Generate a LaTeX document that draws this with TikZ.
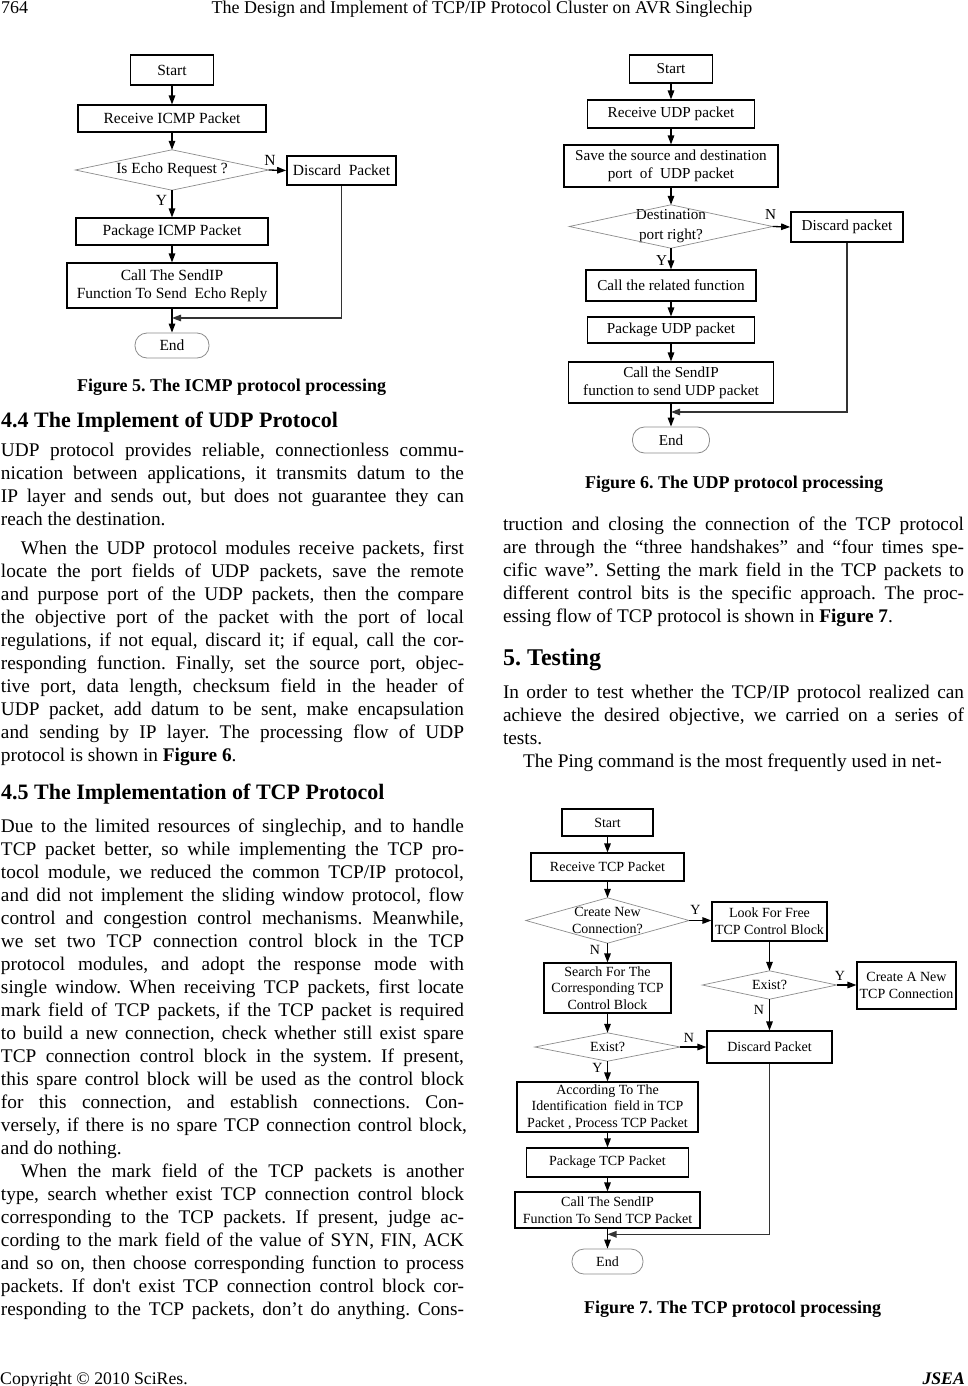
\documentclass[tikz,border=0pt]{standalone}
\usepackage{fontspec}
\setmainfont{Liberation Serif}
\usetikzlibrary{arrows.meta}
\frenchspacing
\newcommand\jl[2][463pt]{\hbox to #1{#2}}
\newcommand\nl[1]{\hbox{#1}}
\newcommand\sq{{\addfontfeatures{Ligatures=TeXOff}'}}
\newcommand\bodyf{\fontsize{19.3}{23}\selectfont}
\newcommand\headf{\fontsize{22}{26}\selectfont\bfseries}
\newcommand\headg{\fontsize{24}{26}\selectfont\bfseries}
\newcommand\capf{\fontsize{18}{21}\selectfont\bfseries}
\begin{document}
\begin{tikzpicture}[x=1pt,y=-1pt,
  txt/.style={inner sep=0pt, outer sep=0pt, font=\bodyf},
  fbox/.style={draw=black, line width=1.1pt, inner sep=0pt, align=center},
  fdia/.style={inner sep=0pt, align=center},
  diaedge/.style={draw=black!45, line width=0.7pt},
  fend/.style={draw=black!45, line width=0.8pt, rounded corners=12pt, inner sep=0pt},
  arr/.style={-{Triangle[length=9pt,width=6.5pt]}, line width=1.3pt, draw=black},
  retl/.style={-{Triangle[length=9pt,width=6.5pt]}, line width=1.3pt, draw=black!80},
  lab/.style={inner sep=0pt}
]
\useasboundingbox[fill=white] (0,0) rectangle (967,1386);

% ---------- header / footer ----------
\node[anchor=base west, inner sep=0pt, font=\fontsize{18}{20}\selectfont] (pgno) at (1,14) {764};
\node[anchor=base, inner sep=0pt, font=\fontsize{18}{20}\selectfont] (title) at (482,14) {The Design and Implement of TCP/IP Protocol Cluster on AVR Singlechip};
\node[anchor=base west, inner sep=0pt, font=\fontsize{17.7}{20}\selectfont] (copy) at (0,1384) {Copyright © 2010 SciRes.};
\node[anchor=base east, inner sep=0pt, font=\fontsize{17.7}{20}\selectfont\bfseries\itshape] (jsea) at (965,1384) {JSEA};

% ---------- Figure 5 ----------
\begin{scope}[every node/.append style={font=\fontsize{15.5}{18}\selectfont}]
\node[fbox, minimum width=83pt, minimum height=30pt] (s5) at (172,70) {Start};
\node[fbox, minimum width=188pt, minimum height=27pt] (r5) at (172,118.5) {Receive ICMP Packet};
\node[fdia, minimum width=193pt, minimum height=40pt] (d5) at (172,170) {Is Echo Request ?};
\node[fbox, line width=1.7pt, minimum width=109pt, minimum height=29pt] (x5) at (341.5,170.5) {Discard\ \ Packet};
\node[fbox, minimum width=192pt, minimum height=27pt] (p5) at (172,231.5) {Package ICMP Packet};
\node[fbox, minimum width=210pt, minimum height=45pt] (c5) at (172,285.5) {Call The SendIP\\Function To Send\ \ Echo Reply};
\node[fend, minimum width=74pt, minimum height=25pt] (e5) at (172,345.5) {End};
\node[lab] (n5) at (270,160) {N};
\node[lab] (y5) at (161.5,200) {Y};
\end{scope}
\coordinate (j5) at (172,318);
\draw[diaedge] (d5.west)--(d5.north)--(d5.east)--(d5.south)--cycle;
\draw[arr] (s5.south)--(r5.north);
\draw[arr] (r5.south)--(d5.north);
\draw[arr] (d5.east)--(x5.west);
\draw[arr] (d5.south)--(p5.north);
\draw[arr] (p5.south)--(c5.north);
\draw[arr] (c5.south)--(e5.north);
\draw[retl] (x5.south) |- (j5);
\node[anchor=base, inner sep=0pt, font=\capf] (cap5) at (231.5,391) {Figure 5. The ICMP protocol processing};

% ---------- Figure 6 ----------
\begin{scope}[every node/.append style={font=\fontsize{15.2}{18.3}\selectfont}]
\node[fbox, minimum width=83pt, minimum height=28pt] (s6) at (671,69) {Start};
\node[fbox, minimum width=167pt, minimum height=28pt] (r6) at (671,114) {Receive UDP packet};
\node[fbox, minimum width=214pt, minimum height=42pt] (v6) at (671,166) {Save the source and destination\\port\ \ of\ \ UDP packet};
\node[fdia, minimum width=203pt, minimum height=43pt, font=\fontsize{15.2}{20}\selectfont] (d6) at (671,226.5) {Destination\\port right?};
\node[fbox, line width=1.7pt, minimum width=112pt, minimum height=30pt] (x6) at (847,227) {Discard packet};
\node[fbox, minimum width=170pt, minimum height=31pt] (f6) at (671,285.5) {Call the related function};
\node[fbox, minimum width=167pt, minimum height=26pt] (p6) at (671,330) {Package UDP packet};
\node[fbox, minimum width=205pt, minimum height=41pt] (c6) at (671,382.5) {Call the SendIP\\function to send UDP packet};
\node[fend, minimum width=77pt, minimum height=26pt] (e6) at (671,440) {End};
\node[lab] (n6) at (770.5,215) {N};
\node[lab] (y6) at (661.5,260.5) {Y};
\end{scope}
\coordinate (j6) at (671,412);
\draw[diaedge] (d6.west)--(d6.north)--(d6.east)--(d6.south)--cycle;
\draw[arr] (s6.south)--(r6.north);
\draw[arr] (r6.south)--(v6.north);
\draw[arr] (v6.south)--(d6.north);
\draw[arr] (d6.east)--(x6.west);
\draw[arr] (d6.south)--(f6.north);
\draw[arr] (f6.south)--(p6.north);
\draw[arr] (p6.south)--(c6.north);
\draw[arr] (c6.south)--(e6.north);
\draw[retl] (x6.south) |- (j6);
\node[anchor=base, inner sep=0pt, font=\capf] (cap6) at (734,488) {Figure 6. The UDP protocol processing};

% ---------- Figure 7 ----------
\begin{scope}[every node/.append style={font=\fontsize{14}{16.7}\selectfont}]
\node[fbox, minimum width=91pt, minimum height=27pt] (s7) at (607.5,822.5) {Start};
\node[fbox, minimum width=153pt, minimum height=28pt] (r7) at (607.5,867) {Receive TCP Packet};
\node[fdia, minimum width=163pt, minimum height=45pt, font=\fontsize{14}{17.3}\selectfont] (d7) at (607.5,920.5) {Create New\\Connection?};
\node[fbox, minimum width=115pt, minimum height=39pt] (l7) at (769.5,921.5) {Look For Free\\TCP Control Block};
\node[fbox, minimum width=127pt, minimum height=50pt] (q7) at (607.5,988) {Search For The\\Corresponding TCP\\Control Block};
\node[fdia, minimum width=134pt, minimum height=28pt] (g7) at (769.5,985) {Exist?};
\node[fbox, minimum width=99pt, minimum height=47pt] (n7) at (906.5,985.5) {Create A New\\TCP Connection};
\node[fbox, minimum width=125pt, minimum height=32pt] (x7) at (769.5,1047) {Discard Packet};
\node[fdia, minimum width=145pt, minimum height=28pt] (h7) at (607.5,1047) {Exist?};
\node[fbox, minimum width=181pt, minimum height=50pt] (a7) at (607.5,1107) {According To The\\Identification\ \ field in TCP\\Packet , Process TCP Packet};
\node[fbox, minimum width=162pt, minimum height=29pt] (p7) at (607.5,1162.5) {Package TCP Packet};
\node[fbox, minimum width=185pt, minimum height=36pt] (c7) at (607.5,1210) {Call The SendIP\\Function To Send TCP Packet};
\node[fend, minimum width=71pt, minimum height=25pt] (e7) at (607.5,1261.5) {End};
\node[lab] (ly1) at (695.5,910) {Y};
\node[lab] (ln1) at (595,950) {N};
\node[lab] (ly2) at (840,976) {Y};
\node[lab] (ln2) at (759,1010) {N};
\node[lab] (ln3) at (689,1037.5) {N};
\node[lab] (ly3) at (597.5,1068) {Y};
\end{scope}
\coordinate (j7) at (607.5,1234.3);
\draw[diaedge] (d7.west)--(d7.north)--(d7.east)--(d7.south)--cycle;
\draw[diaedge] (g7.west)--(g7.north)--(g7.east)--(g7.south)--cycle;
\draw[diaedge] (h7.west)--(h7.north)--(h7.east)--(h7.south)--cycle;
\draw[arr] (s7.south)--(r7.north);
\draw[arr] (r7.south)--(d7.north);
\draw[arr] (d7.east)--(d7.east -| l7.west);
\draw[arr] (d7.south)--(q7.north);
\draw[arr] (l7.south)--(g7.north);
\draw[arr] (g7.east)--(n7.west |- g7.east);
\draw[arr] (g7.south)--(x7.north);
\draw[arr] (q7.south)--(h7.north);
\draw[arr] (h7.east)--(x7.west);
\draw[arr] (h7.south)--(a7.north);
\draw[arr] (a7.south)--(p7.north);
\draw[arr] (p7.south)--(c7.north);
\draw[arr] (c7.south)--(e7.north);
\draw[retl] (x7.south) |- (j7);
\node[anchor=base, inner sep=0pt, font=\capf] (cap7) at (732.5,1313) {Figure 7. The TCP protocol processing};

% ---------- left column text ----------
\node[anchor=base west, inner sep=0pt, font=\headf] (h44) at (1,427) {4.4 The Implement of UDP Protocol};
\node[txt, anchor=base west] (pa1) at (1,456) {\vtop{%
\jl{UDP protocol provides reliable, connectionless commu-}%
\jl{nication between applications, it transmits datum to the}%
\jl{IP layer and sends out, but does not guarantee they can}%
\nl{reach the destination.}}};
\node[txt, anchor=base west] (pa2) at (1,554) {\vtop{%
\jl{\hskip20pt When the UDP protocol modules receive packets, first}%
\jl{locate the port fields of UDP packets, save the remote}%
\jl{and purpose port of the UDP packets, then the compare}%
\jl{the objective port of the packet with the port of local}%
\jl{regulations, if not equal, discard it; if equal, call the cor-}%
\jl{responding function. Finally, set the source port, objec-}%
\jl{tive port, data length, checksum field in the header of}%
\jl{UDP packet, add datum to be sent, make encapsulation}%
\jl{and sending by IP layer. The processing flow of UDP}%
\nl{protocol is shown in \textbf{Figure 6}.}}};
\node[anchor=base west, inner sep=0pt, font=\headf] (h45) at (1,799) {4.5 The Implementation of TCP Protocol};
\node[txt, anchor=base west] (pa3) at (1,832) {\vtop{%
\jl{Due to the limited resources of singlechip, and to handle}%
\jl{TCP packet better, so while implementing the TCP pro-}%
\jl{tocol module, we reduced the common TCP/IP protocol,}%
\jl{and did not implement the sliding window protocol, flow}%
\jl{control and congestion control mechanisms. Meanwhile,}%
\jl{we set two TCP connection control block in the TCP}%
\jl{protocol modules, and adopt the response mode with}%
\jl{single window. When receiving TCP packets, first locate}%
\jl{mark field of TCP packets, if the TCP packet is required}%
\jl{to build a new connection, check whether still exist spare}%
\jl{TCP connection control block in the system. If present,}%
\jl{this spare control block will be used as the control block}%
\jl{for this connection, and establish connections. Con-}%
\jl[466pt]{versely, if there is no spare TCP connection control block,}%
\nl{and do nothing.}}};
\node[txt, anchor=base west] (pa4) at (1,1177) {\vtop{%
\jl{\hskip20pt When the mark field of the TCP packets is another}%
\jl{type, search whether exist TCP connection control block}%
\jl{corresponding to the TCP packets. If present, judge ac-}%
\jl{cording to the mark field of the value of SYN, FIN, ACK}%
\jl{and so on, then choose corresponding function to process}%
\jl{packets. If don\sq t exist TCP connection control block cor-}%
\jl{responding to the TCP packets, don’t do anything. Cons-}}};

% ---------- right column text ----------
\node[txt, anchor=base west] (pb1) at (503,530) {\vtop{%
\jl[461pt]{truction and closing the connection of the TCP protocol}%
\jl[461pt]{are through the “three handshakes” and “four times spe-}%
\jl[461pt]{cific wave”. Setting the mark field in the TCP packets to}%
\jl[461pt]{different control bits is the specific approach. The proc-}%
\nl{essing flow of TCP protocol is shown in \textbf{Figure 7}.}}};
\node[anchor=base west, inner sep=0pt, font=\headg] (h5) at (503,665) {5. Testing};
\node[txt, anchor=base west] (pb2) at (503,698) {\vtop{%
\jl[461pt]{In order to test whether the TCP/IP protocol realized can}%
\jl[461pt]{achieve the desired objective, we carried on a series of}%
\nl{tests.}%
\nl{\hskip20pt The Ping command is the most frequently used in net-}}};
\end{tikzpicture}
\end{document}
